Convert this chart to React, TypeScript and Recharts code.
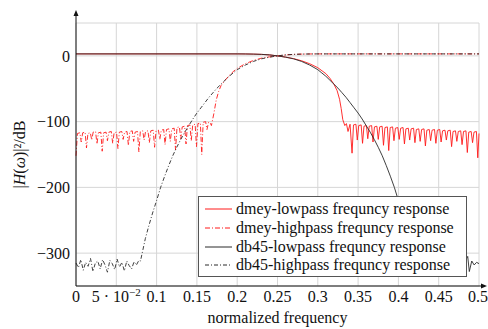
import {
  CartesianGrid,
  Legend,
  Line,
  LineChart,
  XAxis,
  YAxis,
} from "recharts";

// [normalized frequency, |H|^2 in dB]
const dmeyLowpass: [number, number][] = [
  [0, 3], [0.2, 3], [0.21, 2.9], [0.22, 2.7], [0.23, 2.3], [0.24, 1.5],
  [0.25, 0], [0.26, -1.8], [0.27, -4.2], [0.28, -7.5], [0.29, -12],
  [0.3, -18], [0.31, -27], [0.315, -34], [0.32, -43], [0.324, -53],
  [0.327, -66], [0.329, -80], [0.331, -97], [0.3335, -106], [0.3355, -103],
  [0.3375, -115], [0.34, -104], [0.3425, -148],
  [0.3443, -105], [0.3473, -104], [0.349, -128],
  [0.3508, -106], [0.3538, -105], [0.3555, -133],
  [0.3573, -107], [0.3603, -106], [0.362, -126],
  [0.3638, -107], [0.3668, -106], [0.3685, -131],
  [0.3703, -108], [0.3733, -107], [0.375, -127],
  [0.3768, -108], [0.3798, -107], [0.3815, -136],
  [0.3833, -109], [0.3863, -108], [0.388, -144],
  [0.3898, -109], [0.3928, -108], [0.3945, -129],
  [0.3963, -110], [0.3993, -109], [0.401, -127],
  [0.4028, -110], [0.4058, -109], [0.4075, -134],
  [0.4093, -111], [0.4123, -110], [0.414, -128],
  [0.4158, -111], [0.4188, -110], [0.4205, -132],
  [0.4223, -112], [0.4253, -111], [0.427, -130],
  [0.4288, -112], [0.4318, -111], [0.4335, -137],
  [0.4353, -113], [0.4383, -112], [0.44, -129],
  [0.4418, -113], [0.4448, -112], [0.4465, -133],
  [0.4483, -113], [0.4513, -112], [0.453, -131],
  [0.4548, -114], [0.4578, -113], [0.4595, -128],
  [0.4613, -114], [0.4643, -113], [0.466, -138],
  [0.4678, -115], [0.4708, -114], [0.4725, -130],
  [0.4743, -115], [0.4773, -114], [0.479, -135],
  [0.4808, -115], [0.4838, -114], [0.4855, -147],
  [0.4873, -116], [0.4903, -115], [0.492, -132],
  [0.4938, -116], [0.4968, -115], [0.4985, -155], [0.5, -118],
];

const dmeyHighpass: [number, number][] = [
  [0, -152], [0.0018, -118], [0.0048, -117],
  [0.0065, -131], [0.0083, -117], [0.0113, -116],
  [0.013, -140], [0.0148, -118], [0.0178, -117],
  [0.0195, -128], [0.0213, -116], [0.0243, -115],
  [0.026, -134], [0.0278, -117], [0.0308, -116],
  [0.0325, -145], [0.0343, -117], [0.0373, -116],
  [0.039, -129], [0.0408, -116], [0.0438, -115],
  [0.0455, -133], [0.0473, -117], [0.0503, -116],
  [0.052, -141], [0.0538, -116], [0.0568, -115],
  [0.0585, -127], [0.0603, -116], [0.0633, -115],
  [0.065, -136], [0.0668, -115], [0.0698, -114],
  [0.0715, -130], [0.0733, -116], [0.0763, -115],
  [0.078, -146], [0.0798, -115], [0.0828, -114],
  [0.0845, -128], [0.0863, -115], [0.0893, -114],
  [0.091, -132], [0.0928, -114], [0.0958, -113],
  [0.0975, -139], [0.0993, -114], [0.1023, -113],
  [0.104, -127], [0.1058, -113], [0.1088, -112],
  [0.1105, -135], [0.1123, -112], [0.1153, -111],
  [0.117, -130], [0.1188, -111], [0.1218, -110],
  [0.1235, -143], [0.1253, -109], [0.1283, -108],
  [0.13, -126], [0.1318, -108], [0.1348, -107],
  [0.1365, -134], [0.1383, -106], [0.1413, -105],
  [0.143, -129], [0.1448, -105], [0.1478, -104],
  [0.1495, -138], [0.1513, -103], [0.1543, -102],
  [0.156, -150], [0.1578, -101], [0.1608, -100],
  [0.1625, -112], [0.1645, -101], [0.1665, -102],
  [0.168, -106], [0.171, -88], [0.174, -67], [0.177, -54], [0.18, -45],
  [0.185, -37], [0.19, -30], [0.195, -24], [0.2, -19], [0.21, -12],
  [0.22, -7], [0.23, -3.5], [0.24, -1.5], [0.25, 0], [0.26, 1.5],
  [0.27, 2.3], [0.28, 2.7], [0.29, 2.9], [0.3, 3], [0.5, 3],
];

const db45Lowpass: [number, number][] = [
  [0, 3], [0.2, 3], [0.21, 2.9], [0.22, 2.7], [0.23, 2.3], [0.24, 1.5],
  [0.25, 0], [0.26, -2], [0.27, -4.5], [0.28, -8.5], [0.29, -14],
  [0.3, -21], [0.305, -26], [0.31, -31], [0.315, -37], [0.32, -43],
  [0.325, -49], [0.33, -56], [0.335, -63], [0.34, -71], [0.345, -79],
  [0.35, -87], [0.355, -96], [0.36, -106], [0.365, -116], [0.37, -127],
  [0.375, -139], [0.38, -152], [0.385, -167], [0.39, -183], [0.395, -200],
  [0.4, -220], [0.405, -239], [0.41, -260], [0.414, -278], [0.417, -295],
  [0.42, -312], [0.423, -318], [0.426, -310], [0.429, -326], [0.432, -314],
  [0.435, -321], [0.438, -309], [0.441, -327], [0.444, -316], [0.447, -312],
  [0.45, -324], [0.453, -311], [0.456, -319], [0.459, -328], [0.462, -313],
  [0.465, -317], [0.468, -325], [0.471, -310], [0.474, -320], [0.477, -315],
  [0.48, -326], [0.483, -312], [0.486, -305], [0.488, -328], [0.491, -312],
  [0.494, -318], [0.497, -314], [0.5, -316],
];

const db45Highpass: [number, number][] = [
  [0, -315], [0.003, -322], [0.006, -310], [0.009, -326], [0.012, -314],
  [0.015, -320], [0.018, -308], [0.021, -328], [0.024, -315], [0.027, -312],
  [0.03, -324], [0.033, -310], [0.036, -318], [0.039, -329], [0.042, -311],
  [0.045, -316], [0.048, -325], [0.051, -309], [0.054, -321], [0.057, -314],
  [0.06, -327], [0.063, -312], [0.066, -319], [0.069, -324], [0.072, -313],
  [0.075, -318], [0.078, -311], [0.08, -312], [0.083, -295], [0.086, -278],
  [0.09, -260], [0.095, -239], [0.1, -220], [0.105, -200], [0.11, -183],
  [0.115, -167], [0.12, -152], [0.125, -139], [0.13, -127], [0.135, -116],
  [0.14, -106], [0.145, -96], [0.15, -87], [0.155, -79], [0.16, -71],
  [0.165, -63], [0.17, -56], [0.175, -49], [0.18, -43], [0.185, -37],
  [0.19, -31], [0.195, -26], [0.2, -21], [0.21, -14], [0.22, -8.5],
  [0.23, -4.5], [0.24, -2], [0.25, 0], [0.26, 1.5], [0.27, 2.3],
  [0.28, 2.7], [0.29, 2.9], [0.3, 3], [0.5, 3],
];

const xTicks = [0, 0.05, 0.1, 0.15, 0.2, 0.25, 0.3, 0.35, 0.4, 0.45, 0.5];
const xTickLabels = ["0", "5 · 10", "0.1", "0.15", "0.2", "0.25", "0.3", "0.35", "0.4", "0.45", "0.5"];
const yTicks = [-300, -200, -100, 0];

const FONT = "'Liberation Serif', 'Times New Roman', serif";
const RED = "#ff1a1a";
const DARK = "#2a2a2a";

const series = [
  { name: "dmey-lowpass frequncy response", data: dmeyLowpass, color: RED, dash: undefined },
  { name: "dmey-highpass frequncy response", data: dmeyHighpass, color: RED, dash: "5 2 1 2" },
  { name: "db45-lowpass frequncy response", data: db45Lowpass, color: DARK, dash: undefined },
  { name: "db45-highpass frequncy response", data: db45Highpass, color: DARK, dash: "4 2 1 2" },
];

const toPoints = (pairs: [number, number][]) => pairs.map(([f, db]) => ({ f, db }));

// plot box
const W = 488;
const H = 329;
const LEFT = 76;
const TOP = 23;
const RIGHT = 9;
const BOTTOM = 43;

function XTick(props: any) {
  const { x, y, payload } = props;
  const i = xTicks.indexOf(payload.value);
  const label = xTickLabels[i] ?? String(payload.value);
  return (
    <text x={x} y={y + 16} textAnchor="middle" fontFamily={FONT} fontSize={16} fill="#111">
      <tspan>{label}</tspan>
      {payload.value === 0.05 && (
        <tspan dy={-6} fontSize={11}>
          −2
        </tspan>
      )}
    </text>
  );
}

function renderLegend() {
  return (
    <div
      style={{
        boxSizing: "border-box",
        width: 269,
        height: 81,
        border: "1px solid #555",
        background: "#fff",
        paddingTop: 3,
        fontFamily: FONT,
        fontSize: 16,
        color: "#111",
      }}
    >
      {series.map((s) => (
        <div key={s.name} style={{ display: "flex", alignItems: "center", height: 18.7, whiteSpace: "nowrap" }}>
          <svg width={27} height={6} style={{ marginLeft: 6, marginRight: 4 }}>
            <line x1={0} y1={3} x2={27} y2={3} stroke={s.color} strokeWidth={1} strokeDasharray={s.dash} />
          </svg>
          <span>{s.name}</span>
        </div>
      ))}
    </div>
  );
}

export default function App() {
  return (
    <div style={{ position: "absolute", left: 0, top: 0, width: W, height: H, background: "#fff" }}>
      <LineChart width={W} height={H} margin={{ top: TOP, right: RIGHT, bottom: 0, left: 0 }}>
        <CartesianGrid stroke="#d6d6d6" strokeWidth={1} />
        <XAxis
          dataKey="f"
          type="number"
          domain={[0, 0.5]}
          ticks={xTicks}
          height={BOTTOM}
          axisLine={false}
          tickLine={false}
          tickSize={0}
          tickMargin={0}
          tick={(p: any) => <XTick {...p} />}
          label={{
            content: (p: any) => {
              const vb = p.viewBox;
              return (
                <text x={vb.x + vb.width / 2} y={vb.y + 37} textAnchor="middle" fontFamily={FONT} fontSize={16} fill="#111">
                  normalized frequency
                </text>
              );
            },
          }}
        />
        <YAxis
          dataKey="db"
          type="number"
          domain={[-350, 50]}
          ticks={yTicks}
          width={LEFT}
          axisLine={false}
          tickLine={false}
          tickSize={0}
          tickMargin={6}
          tick={{ fontFamily: FONT, fontSize: 16, fill: "#111" }}
          tickFormatter={(v: number) => (v < 0 ? "−" + Math.abs(v) : String(v))}
          label={{
            content: (p: any) => {
              const vb = p.viewBox;
              const cy = vb.y + vb.height / 2;
              return (
                <text
                  x={19}
                  y={cy}
                  dy="0.35em"
                  transform={`rotate(-90 19 ${cy})`}
                  textAnchor="middle"
                  fontFamily={FONT}
                  fontSize={16}
                  fill="#111"
                >
                  |<tspan fontStyle="italic">H</tspan>(<tspan fontStyle="italic">ω</tspan>)|²/dB
                </text>
              );
            },
          }}
        />
        <Legend
          layout="vertical"
          align="center"
          verticalAlign="middle"
          content={renderLegend}
          wrapperStyle={{ left: 198, top: 196, right: "auto", bottom: "auto", width: 269, height: 81 }}
        />
        {series.map((s) => (
          <Line
            key={s.name}
            name={s.name}
            data={toPoints(s.data)}
            dataKey="db"
            type="linear"
            stroke={s.color}
            strokeWidth={0.9}
            strokeDasharray={s.dash}
            dot={false}
            activeDot={false}
            isAnimationActive={false}
          />
        ))}
      </LineChart>
      {/* axis lines with arrow heads */}
      <svg width={W} height={H} style={{ position: "absolute", left: 0, top: 0, pointerEvents: "none" }}>
        <line x1={LEFT} y1={H - BOTTOM} x2={W - 4} y2={H - BOTTOM} stroke="#111" strokeWidth={1} />
        <polygon points={`${W - 1},${H - BOTTOM} ${W - 7},${H - BOTTOM - 2.5} ${W - 7},${H - BOTTOM + 2.5}`} fill="#111" />
        <line x1={LEFT} y1={H - BOTTOM} x2={LEFT} y2={14} stroke="#111" strokeWidth={1} />
        <polygon points={`${LEFT},${10} ${LEFT - 2.5},${16} ${LEFT + 2.5},${16}`} fill="#111" />
      </svg>
    </div>
  );
}
